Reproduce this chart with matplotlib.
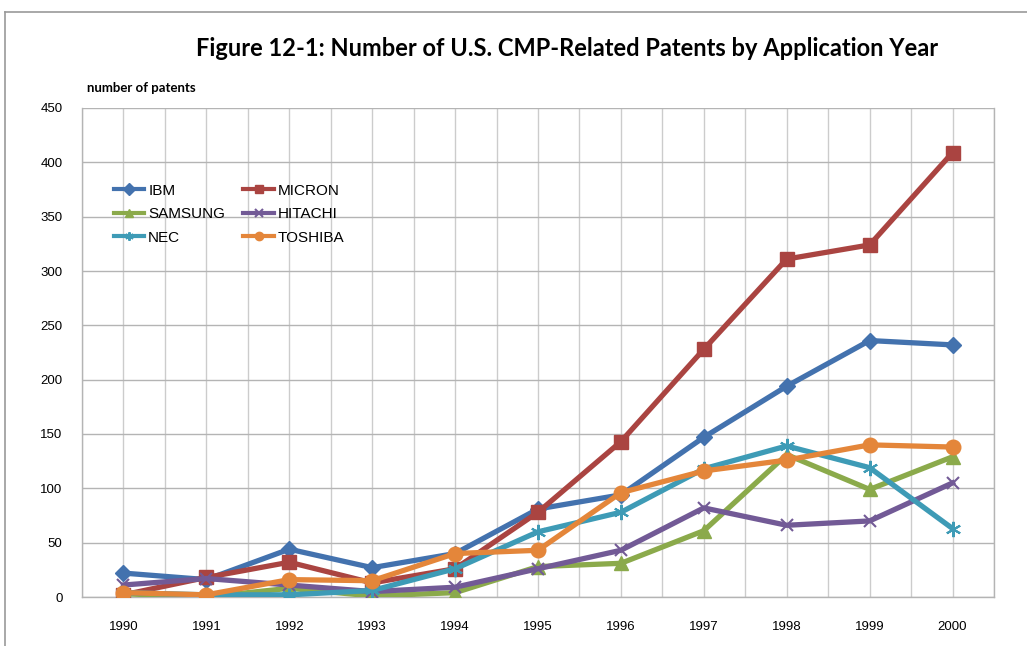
import matplotlib
matplotlib.use("Agg")
import matplotlib.pyplot as plt
from matplotlib.lines import Line2D
import numpy as np

years = ["1990", "1991", "1992", "1993", "1994", "1995", "1996", "1997", "1998", "1999", "2000"]
ibm = [22, 16, 44, 27, 40, 81, 94, 147, 194, 236, 232]
micron = [2, 18, 32, 13, 26, 78, 143, 228, 311, 324, 409]
samsung = [3, 0, 8, 1, 4, 28, 31, 61, 131, 99, 129]
hitachi = [11, 17, 11, 5, 9, 26, 43, 82, 66, 70, 105]
nec = [4, 2, 2, 6, 26, 60, 78, 118, 139, 119, 63]
toshiba = [4, 2, 16, 15, 40, 43, 96, 116, 126, 140, 138]
yticks = [0, 50, 100, 150, 200, 250, 300, 350, 400, 450]

series = [
    ("IBM", ibm, "#4372AE", "D", 8.5),
    ("MICRON", micron, "#AA4441", "s", 9.5),
    ("SAMSUNG", samsung, "#8BAA4B", "^", 10.5),
    ("HITACHI", hitachi, "#725A96", "x", 9),
    ("NEC", nec, "#3E9BB6", (6, 2, 0), 11),
    ("TOSHIBA", toshiba, "#E4863A", "o", 10.5),
]

W, H = 1027, 646
fig = plt.figure(figsize=(W / 100, H / 100), dpi=100)
ax = fig.add_axes([82 / W, 1 - 597 / H, (994 - 82) / W, (597 - 108) / H])

x = np.arange(len(years))
handles = {}
for name, vals, col, mk, ms in series:
    mew = 1.5 if mk in ("x", (6, 2, 0)) else 1.0
    (ln,) = ax.plot(x, vals, color=col, lw=3.8, marker=mk, markersize=ms,
                    markerfacecolor=col, markeredgecolor=col, markeredgewidth=mew,
                    label=name, zorder=3, solid_joinstyle="round")
    handles[name] = ln

ax.set_xlim(-0.5, len(years) - 0.5)
ax.set_ylim(0, 450)
ax.set_yticks(yticks)
ax.set_yticklabels([str(v) for v in yticks], fontsize=9.5, family="Liberation Sans")
ax.set_xticks(x)
ax.set_xticklabels(years, fontsize=9.5, family="Liberation Sans")
ax.set_xticks(np.arange(-0.5, len(years), 1.0), minor=True)
ax.tick_params(axis="both", which="both", length=0)
ax.tick_params(axis="x", pad=17)
ax.tick_params(axis="y", pad=14)
ax.grid(True, axis="y", color="#b4b4b4", lw=1.0, zorder=0)
ax.grid(True, axis="x", which="both", color="#cccccc", lw=1.0, zorder=0)
for s in ax.spines.values():
    s.set_color("#b4b4b4")
    s.set_linewidth(1.0)
ax.spines["top"].set_visible(False)

order = ["IBM", "SAMSUNG", "NEC", "MICRON", "HITACHI", "TOSHIBA"]
leg = ax.legend([handles[n] for n in order], order, ncol=2, loc="upper left",
                bbox_to_anchor=((100 - 82) / (994 - 82), (597 - 170) / (597 - 108)),
                frameon=False, handlelength=2.0, handletextpad=0.25, columnspacing=1.2,
                labelspacing=0.62, borderpad=0.4,
                prop={"family": "Liberation Sans", "size": 11})
for lh in leg.get_lines():
    lh.set_linewidth(3)
    lh.set_markersize(6)

fig.text(567 / W, 1 - 48 / H, "Figure 12-1: Number of U.S. CMP-Related Patents by Application Year",
         ha="center", va="center", fontsize=17.0, fontweight="bold", family="Lato")
fig.text(87 / W, 1 - 88 / H, "number of patents", ha="left", va="center",
         fontsize=9.5, fontweight="bold", family="Lato")

# outer chart border
fig.add_artist(Line2D([5 / W, 5 / W], [0, 1 - 12 / H], transform=fig.transFigure,
                      color="#999999", lw=1.2))
fig.add_artist(Line2D([5 / W, 1], [1 - 12 / H, 1 - 12 / H], transform=fig.transFigure,
                      color="#999999", lw=1.2))

fig.savefig("out.png", dpi=100)
